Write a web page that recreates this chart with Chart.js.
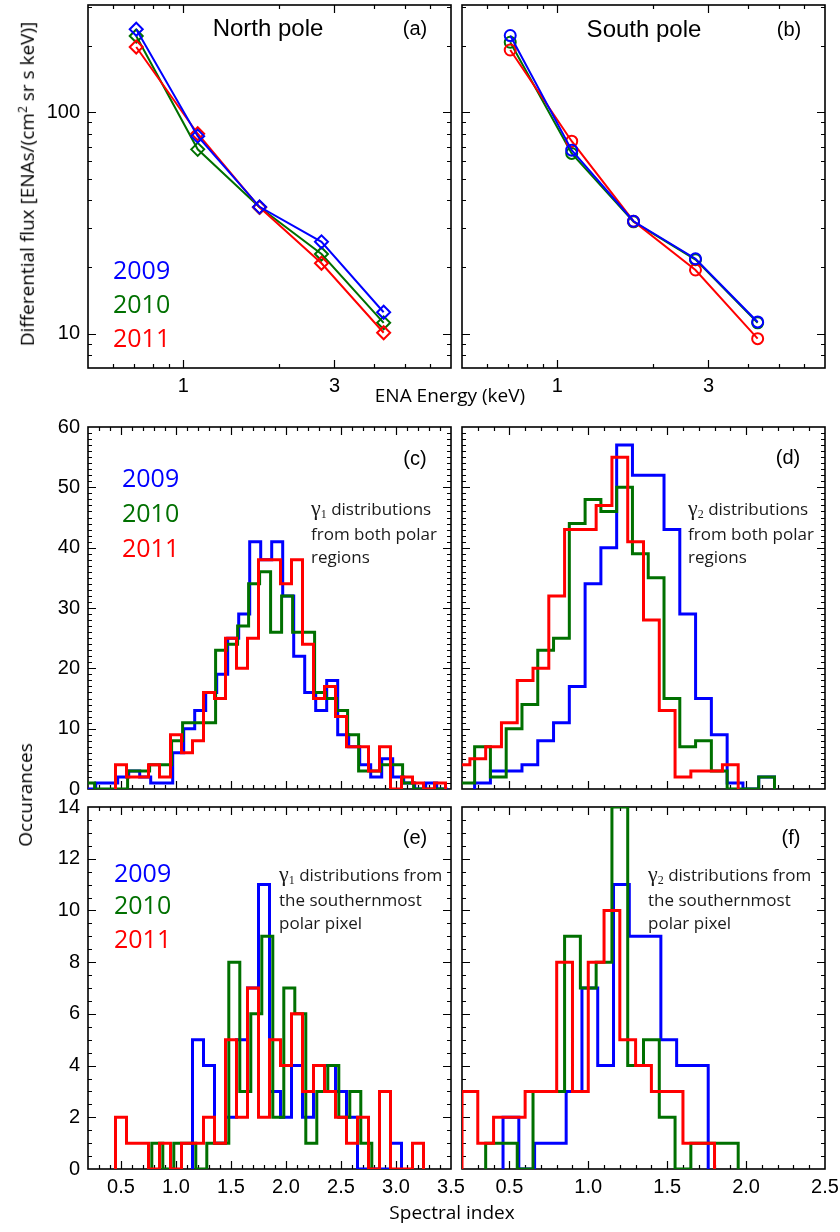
<!DOCTYPE html>
<html>
<head>
<meta charset="utf-8">
<script src="https://cdn.jsdelivr.net/npm/chart.js@4.4.0/dist/chart.umd.min.js"></script>
<style>
  html, body { margin: 0; padding: 0; background: #fff; }
  #fig { position: relative; width: 840px; height: 1232px; overflow: hidden; }
  #fig canvas { position: absolute; }
  .c { position: absolute; transform: translate(-50%, -50%); white-space: nowrap; }
  .l { position: absolute; transform: translateY(-50%); white-space: nowrap; }
  .title { font: 24px 'Liberation Sans', Arial, sans-serif; }
  .tag { font: 20px 'Liberation Sans', Arial, sans-serif; }
  .axis { font: 19px 'Open Sans', sans-serif; }
  .yr { font: 25px 'Open Sans', sans-serif; line-height: 1; }
  .note { position: absolute; font: 17px 'Open Sans', sans-serif; line-height: 23px; color: #1a1a1a; white-space: nowrap; }
  .g { font: 22px 'Liberation Serif', serif; }
  .g sub { font-size: 12px; vertical-align: -3px; }
  .rot { transform: translate(-50%, -50%) rotate(-90deg); }
</style>
</head>
<body>
<div id="fig">
  <canvas id="pa"></canvas>
  <canvas id="pb"></canvas>
  <canvas id="pc"></canvas>
  <canvas id="pd"></canvas>
  <canvas id="pe"></canvas>
  <canvas id="pf"></canvas>

  <div class="c title" style="left:268px;top:28px">North pole</div>
  <div class="c tag" style="left:415px;top:28px">(a)</div>
  <div class="c title" style="left:644px;top:29px">South pole</div>
  <div class="c tag" style="left:789px;top:29px">(b)</div>
  <div class="l yr" style="left:113px;top:269px;color:#0000ff">2009</div>
  <div class="l yr" style="left:113px;top:303px;color:#007000">2010</div>
  <div class="l yr" style="left:113px;top:337px;color:#ff0000">2011</div>

  <div class="c tag" style="left:415px;top:458px">(c)</div>
  <div class="l yr" style="left:122px;top:477px;color:#0000ff">2009</div>
  <div class="l yr" style="left:122px;top:512px;color:#007000">2010</div>
  <div class="l yr" style="left:122px;top:547px;color:#ff0000">2011</div>
  <div class="note" style="left:311px;top:495px"><span class="g">γ<sub>1</sub></span> distributions<br>from both polar<br>regions</div>

  <div class="c tag" style="left:788px;top:457px">(d)</div>
  <div class="note" style="left:688px;top:495px"><span class="g">γ<sub>2</sub></span> distributions<br>from both polar<br>regions</div>

  <div class="c tag" style="left:415px;top:837px">(e)</div>
  <div class="l yr" style="left:114px;top:872px;color:#0000ff">2009</div>
  <div class="l yr" style="left:114px;top:904px;color:#007000">2010</div>
  <div class="l yr" style="left:114px;top:938px;color:#ff0000">2011</div>
  <div class="note" style="left:279px;top:861px"><span class="g">γ<sub>1</sub></span> distributions from<br>the southernmost<br>polar pixel</div>

  <div class="c tag" style="left:791px;top:837px">(f)</div>
  <div class="note" style="left:648px;top:861px"><span class="g">γ<sub>2</sub></span> distributions from<br>the southernmost<br>polar pixel</div>

  <div class="c axis" style="left:450px;top:395px">ENA Energy (keV)</div>
  <div class="c axis" style="left:452px;top:1212px">Spectral index</div>
  <div class="c axis rot" style="left:27px;top:184px">Differential flux [ENAs/(cm<sup style="font-size:12px">2</sup> sr s keV)]</div>
  <div class="c axis rot" style="left:25px;top:795px">Occurances</div>
</div>

<script>
// ---- panels (a),(b): ENA spectra ----
const energy = [0.71, 1.11, 1.74, 2.73, 4.29];
const north2009 = [237, 78, 37.4, 26.0, 12.5];
const north2010 = [221, 68, 37.2, 22.9, 11.2];
const north2011 = [197, 80, 37.2, 20.8, 10.1];
const south2009 = [222, 67.4, 32.2, 21.8, 11.3];
const south2010 = [207, 65.2, 32.0, 21.6, 11.2];
const south2011 = [191, 74, 32.2, 19.4, 9.5];

// ---- panels (c)-(f): histograms, first bin centre + counts per 0.1 bin ----
const binWidth = 0.1;
const g1Both2009Start = 0.22;
const g1Both2009 = [0,1,1,2,3,2,1,1,6,10,13,16,19,25,29,41,38,41,32,22,16,13,18,9,7,4,2,5,2,1,0,1,0];
const g1Both2010Start = 0.21;
const g1Both2010 = [1,0,0,0,3,3,4,4,8,11,11,11,23,24,27,34,36,26,32,26,26,16,15,13,9,3,3,4,4,1,0,0,0];
const g1Both2011Start = 0.5;
const g1Both2011 = [4,2,2,4,2,9,6,8,16,15,25,20,25,38,38,34,38,24,15,17,12,7,7,3,7,0,2,1,0,1];

const g2Both2009Start = 0.33;
const g2Both2009 = [1,3,3,4,8,11,17,34,40,57,52,52,43,29,15,9,1,0,2];
const g2Both2010Start = 0.23;
const g2Both2010 = [1,7,2,10,14,23,25,44,48,46,50,39,35,15,7,8,3,0,0,2];
const g2Both2011Start = 0.2;
const g2Both2011 = [4,5,7,11,18,20,32,43,43,47,55,41,28,13,2,3,3,4];

const g1South2009Start = 1.2;
const g1South2009 = [5,4,1,2,5,7,11,3,2,4,2,4,4,3,2,0,0,0,1];
const g1South2010Start = 0.83;
const g1South2010 = [1,0,1,1,0,1,1,8,3,6,9,2,7,6,1,3,4,2,3,1];
const g1South2011Start = 0.5;
const g1South2011 = [2,1,1,0,1,0,1,1,2,1,5,2,7,2,5,4,6,3,4,3,2,1,2,0,3,0,0,1];

const g2South2009Start = 0.51;
const g2South2009 = [2,0,1,1,3,7,4,11,9,9,5,4,4];
const g2South2010Start = 0.4;
const g2South2010 = [1,1,0,3,3,9,7,8,14,4,5,2,0,1,1,1];
const g2South2011Start = 0.25;
const g2South2011 = [3,1,2,2,3,3,8,3,8,10,5,4,3,3,1,1];

// ---- tick labels ----
const fluxTicks = [10, 100];
const energyTicks = [1, 3];
const indexTicksLeft = [0.5, 1.0, 1.5, 2.0, 2.5, 3.0, 3.5];
const indexTicksRight = [0.5, 1.0, 1.5, 2.0, 2.5];
const countTicksTop = [0, 10, 20, 30, 40, 50, 60];
const countTicksBottom = [0, 2, 4, 6, 8, 10, 12, 14];

const BLUE = '#0000ff', GREEN = '#007000', RED = '#ff0000';
const TICKFONT = {family: "'Liberation Sans', Arial, sans-serif", size: 20};

function steps(from, to, step) {
  const out = [];
  for (let v = from; v <= to + 1e-9; v += step) out.push(+v.toFixed(4));
  return out;
}
function logMinor(lo, hi) {
  const out = [];
  for (let d = 0.1; d <= 1000; d *= 10)
    for (let m = 1; m < 10; m++) {
      const v = +(m * d).toPrecision(3);
      if (v >= lo && v <= hi) out.push(v);
    }
  return out;
}

// box frame with inward ticks on all four sides (IDL style)
const frameTicks = {
  id: 'frameTicks',
  beforeDatasetsDraw(chart, args, o) {
    const {ctx, chartArea: a, scales: {x, y}} = chart;
    ctx.save();
    ctx.strokeStyle = '#000';
    ctx.lineWidth = 1.2;
    ctx.beginPath();
    [[o.xMinor, 4], [o.xMajor, 8]].forEach(([vals, len]) => vals.forEach(v => {
      const px = Math.round(x.getPixelForValue(v)) + 0.5;
      if (px < a.left + 2 || px > a.right - 2) return;
      ctx.moveTo(px, a.bottom); ctx.lineTo(px, a.bottom - len);
      ctx.moveTo(px, a.top); ctx.lineTo(px, a.top + len);
    }));
    [[o.yMinor, 4], [o.yMajor, 8]].forEach(([vals, len]) => vals.forEach(v => {
      const py = Math.round(y.getPixelForValue(v)) + 0.5;
      if (py < a.top + 2 || py > a.bottom - 2) return;
      ctx.moveTo(a.left, py); ctx.lineTo(a.left + len, py);
      ctx.moveTo(a.right, py); ctx.lineTo(a.right - len, py);
    }));
    ctx.stroke();
    ctx.lineWidth = 1.6;
    ctx.strokeRect(a.left, a.top, a.right - a.left, a.bottom - a.top);
    ctx.restore();
  }
};

function spectrum(ys, color, style) {
  return {
    data: energy.map((e, i) => ({x: e, y: ys[i]})),
    borderColor: color, borderWidth: 2,
    pointStyle: style, pointRadius: style === 'circle' ? 5.5 : 6.5,
    pointBorderColor: color, pointBackgroundColor: 'rgba(0,0,0,0)', pointBorderWidth: 2
  };
}

function histo(start, counts, color) {
  const half = binWidth / 2;
  const pts = [{x: start - half, y: 0}];
  counts.forEach((c, i) => pts.push({x: start - half + i * binWidth, y: c}));
  const end = start - half + counts.length * binWidth;
  pts.push({x: end, y: counts[counts.length - 1]});
  pts.push({x: end, y: 0});
  return {
    data: pts, borderColor: color, borderWidth: 3, pointRadius: 0,
    stepped: 'before', borderJoinStyle: 'miter', borderCapStyle: 'butt', fill: false
  };
}

const PAD = {l: 70, t: 14, r: 26, b: 42};

function panel(id, box, datasets, xs, ys, frame) {
  const cv = document.getElementById(id);
  cv.width = box.w + PAD.l + PAD.r;
  cv.height = box.h + PAD.t + PAD.b;
  cv.style.left = (box.x - PAD.l) + 'px';
  cv.style.top = (box.y - PAD.t) + 'px';
  return new Chart(cv, {
    type: 'line',
    data: {datasets},
    options: {
      responsive: false,
      animation: false,
      events: [],
      layout: {padding: {left: 0, top: PAD.t, right: PAD.r, bottom: 0}},
      plugins: {legend: {display: false}, tooltip: {enabled: false}, frameTicks: frame},
      scales: {
        x: Object.assign({
          grid: {display: false, drawTicks: false},
          border: {display: false},
          afterFit: s => { s.height = PAD.b; s.paddingLeft = 0; s.paddingRight = 0; }
        }, xs),
        y: Object.assign({
          grid: {display: false, drawTicks: false},
          border: {display: false},
          afterFit: s => { s.width = PAD.l; s.paddingTop = 0; s.paddingBottom = 0; }
        }, ys)
      }
    },
    plugins: [frameTicks]
  });
}

function fixedTicks(list) {
  return s => { s.ticks = list.map(v => ({value: v})); };
}

const logX = show => ({
  type: 'logarithmic', min: 0.5, max: 7,
  afterBuildTicks: fixedTicks(energyTicks),
  ticks: {display: show, font: TICKFONT, color: '#000', padding: 6, maxRotation: 0, autoSkip: false,
          callback: v => String(v)}
});
const logY = show => ({
  type: 'logarithmic', min: 7, max: 305,
  afterBuildTicks: fixedTicks(fluxTicks),
  ticks: {display: show, font: TICKFONT, color: '#000', padding: 8, autoSkip: false,
          callback: v => String(v)}
});
const linX = (max, list, show) => ({
  type: 'linear', min: 0.2, max,
  afterBuildTicks: fixedTicks(list),
  ticks: {display: show, font: TICKFONT, color: '#000', padding: 6, maxRotation: 0, autoSkip: false,
          callback: v => v.toFixed(1)}
});
const linY = (max, list, show) => ({
  type: 'linear', min: 0, max,
  afterBuildTicks: fixedTicks(list),
  ticks: {display: show, font: TICKFONT, color: '#000', padding: 8, autoSkip: false,
          callback: v => String(v)}
});

const specFrame = {xMajor: energyTicks, xMinor: logMinor(0.5, 7), yMajor: fluxTicks, yMinor: logMinor(7, 305)};
const topLeftFrame = {xMajor: indexTicksLeft, xMinor: steps(0.2, 3.5, 0.1), yMajor: countTicksTop, yMinor: steps(0, 60, 1)};
const topRightFrame = {xMajor: indexTicksRight, xMinor: steps(0.2, 2.5, 0.1), yMajor: countTicksTop, yMinor: steps(0, 60, 1)};
const botLeftFrame = {xMajor: indexTicksLeft, xMinor: steps(0.2, 3.5, 0.1), yMajor: countTicksBottom, yMinor: steps(0, 14, 0.5)};
const botRightFrame = {xMajor: indexTicksRight, xMinor: steps(0.2, 2.5, 0.1), yMajor: countTicksBottom, yMinor: steps(0, 14, 0.5)};

// (a) North pole
panel('pa', {x: 88, y: 5, w: 363, h: 363},
  [spectrum(north2009, BLUE, 'rectRot'), spectrum(north2011, RED, 'rectRot'), spectrum(north2010, GREEN, 'rectRot')],
  logX(true), logY(true), specFrame);
// (b) South pole
panel('pb', {x: 462, y: 5, w: 363, h: 363},
  [spectrum(south2009, BLUE, 'circle'), spectrum(south2011, RED, 'circle'), spectrum(south2010, GREEN, 'circle')],
  logX(true), logY(false), specFrame);
// (c) gamma1, both polar regions
panel('pc', {x: 88, y: 427, w: 363, h: 362},
  [histo(g1Both2011Start, g1Both2011, RED), histo(g1Both2010Start, g1Both2010, GREEN), histo(g1Both2009Start, g1Both2009, BLUE)],
  linX(3.5, indexTicksLeft, false), linY(60, countTicksTop, true), topLeftFrame);
// (d) gamma2, both polar regions
panel('pd', {x: 462, y: 427, w: 363, h: 362},
  [histo(g2Both2011Start, g2Both2011, RED), histo(g2Both2010Start, g2Both2010, GREEN), histo(g2Both2009Start, g2Both2009, BLUE)],
  linX(2.5, indexTicksRight, false), linY(60, countTicksTop, false), topRightFrame);
// (e) gamma1, southernmost pixel
panel('pe', {x: 88, y: 807, w: 363, h: 362},
  [histo(g1South2011Start, g1South2011, RED), histo(g1South2010Start, g1South2010, GREEN), histo(g1South2009Start, g1South2009, BLUE)],
  linX(3.5, indexTicksLeft, true), linY(14, countTicksBottom, true), botLeftFrame);
// (f) gamma2, southernmost pixel
panel('pf', {x: 462, y: 807, w: 363, h: 362},
  [histo(g2South2011Start, g2South2011, RED), histo(g2South2010Start, g2South2010, GREEN), histo(g2South2009Start, g2South2009, BLUE)],
  linX(2.5, indexTicksRight, true), linY(14, countTicksBottom, false), botRightFrame);
</script>
</body>
</html>
